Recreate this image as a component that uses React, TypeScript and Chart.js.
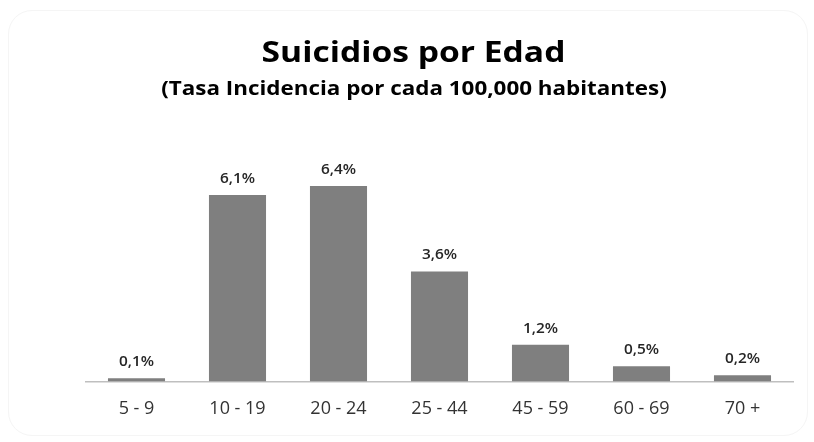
import React, { useEffect, useRef } from "react";
import { Chart, registerables } from "chart.js";

Chart.register(...registerables);

const categories = ["5 - 9", "10 - 19", "20 - 24", "25 - 44", "45 - 59", "60 - 69", "70 +"];
const values = [0.1, 6.1, 6.4, 3.6, 1.2, 0.5, 0.2];
const valueLabels = ["0,1%", "6,1%", "6,4%", "3,6%", "1,2%", "0,5%", "0,2%"];
const titleText = "Suicidios por Edad";
const subtitleText = "(Tasa Incidencia por cada 100,000 habitantes)";

function stretchedText(ctx: any, text: string, x: number, y: number, sx: number) {
  ctx.save();
  ctx.translate(x, y);
  ctx.scale(sx, 1);
  ctx.fillText(text, 0, 0);
  ctx.restore();
}

const labelPlugin = {
  id: "valueLabels",
  afterDatasetsDraw(chart: any) {
    const ctx = chart.ctx;
    const meta = chart.getDatasetMeta(0);
    ctx.save();
    ctx.font = "600 14px 'Open Sans', sans-serif";
    ctx.fillStyle = "#262626";
    ctx.textAlign = "center";
    ctx.textBaseline = "alphabetic";
    meta.data.forEach((bar: any, i: number) => {
      stretchedText(ctx, valueLabels[i], bar.x, bar.y - 12, 1.1);
    });
    ctx.restore();
  },
};

const titlePlugin = {
  id: "titles",
  afterDraw(chart: any) {
    const ctx = chart.ctx;
    ctx.save();
    ctx.fillStyle = "#000000";
    ctx.textAlign = "center";
    ctx.textBaseline = "alphabetic";
    ctx.font = "bold 28px 'Open Sans', sans-serif";
    stretchedText(ctx, titleText, 413.5, 62, 1.2);
    ctx.font = "bold 20px 'Open Sans', sans-serif";
    stretchedText(ctx, subtitleText, 414, 95, 1.12);
    ctx.restore();
  },
};

export default function App() {
  const ref = useRef<HTMLCanvasElement>(null);
  useEffect(() => {
    if (!ref.current) return;
    const chart = new Chart(ref.current, {
      type: "bar",
      data: {
        labels: categories,
        datasets: [
          {
            data: values,
            backgroundColor: "#7f7f7f",
            barPercentage: 0.565,
            categoryPercentage: 1,
          },
        ],
      },
      options: {
        animation: false,
        responsive: false,
        maintainAspectRatio: false,
        layout: { padding: { left: 86, right: 21, top: 137, bottom: 5 } },
        plugins: {
          legend: { display: false },
          tooltip: { enabled: false },
          title: { display: false },
        },
        scales: {
          x: {
            grid: { display: false, drawTicks: false },
            border: { display: true, color: "#bfbfbf", width: 1.5 },
            ticks: {
              color: "#333333",
              font: { family: "'Open Sans', sans-serif", size: 18 },
              padding: 17,
            },
          },
          y: {
            display: false,
            min: 0,
            max: 8,
          },
        },
      },
      plugins: [labelPlugin, titlePlugin],
    });
    return () => chart.destroy();
  }, []);
  return (
    <div style={{ position: "fixed", left: 0, top: 0, width: 814, height: 442, background: "#fff" }}>
      <div
        style={{
          position: "absolute",
          left: 8,
          top: 10,
          width: 800,
          height: 426,
          border: "1px solid #f5f5f5",
          borderRadius: 24,
          boxSizing: "border-box",
        }}
      />
      <canvas ref={ref} width={814} height={442} style={{ position: "absolute", left: 0, top: 0 }} />
    </div>
  );
}
